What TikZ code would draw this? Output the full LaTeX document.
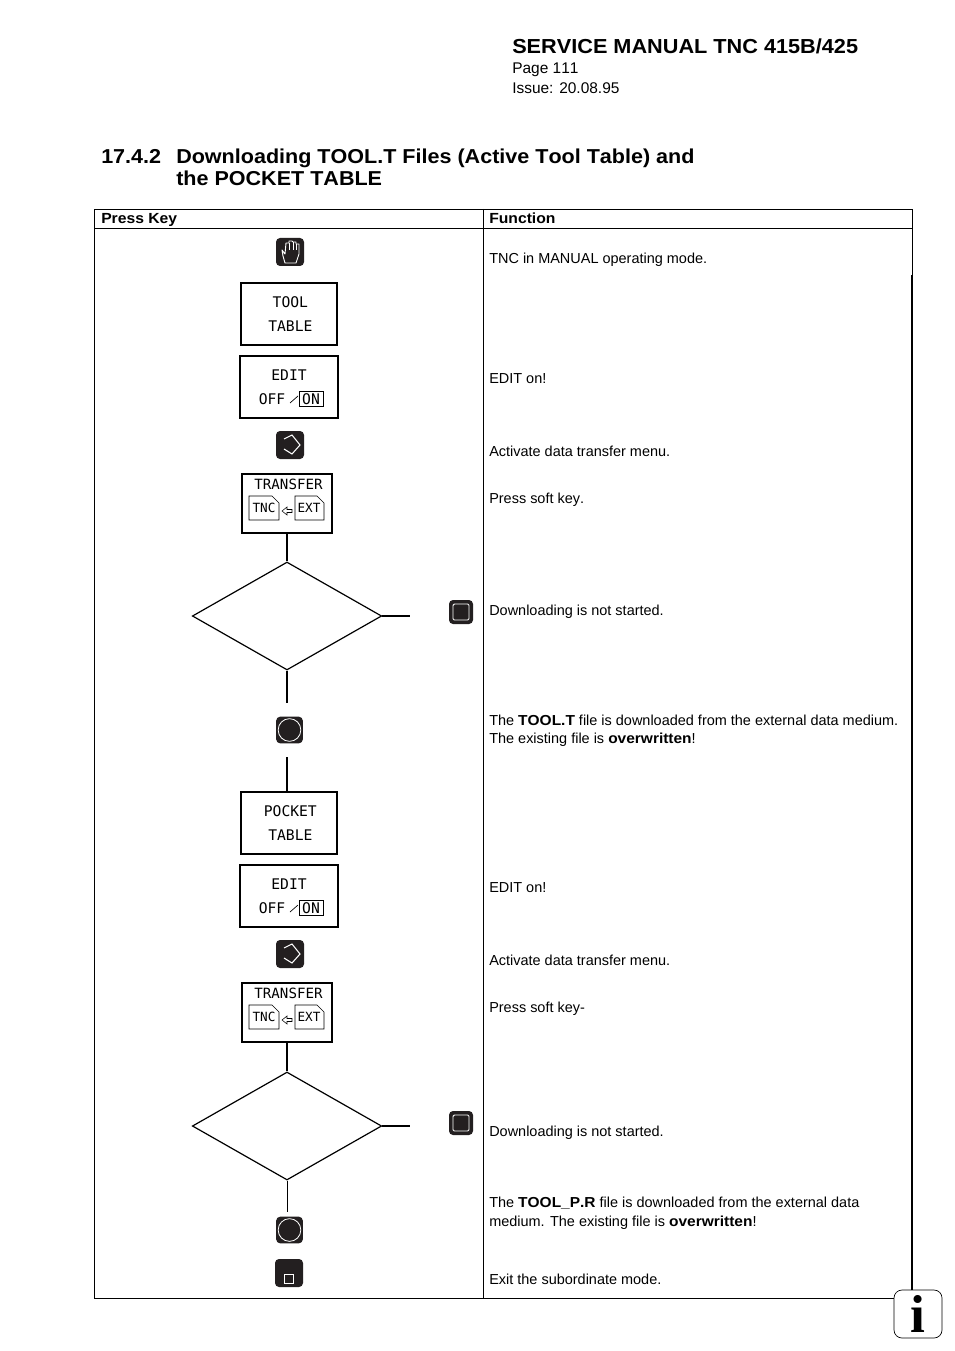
\documentclass[tikz,border=0pt]{standalone}
\usepackage{fontspec}
\setmainfont{Liberation Sans}[Kerning=Off, BoldFeatures={FakeStretch=1.07}]
\newfontfamily\keyfont{DejaVu Sans Mono}
\newfontfamily\infofont{Liberation Serif}
\usetikzlibrary{shapes.geometric}
\definecolor{keyblack}{HTML}{231F20}
\tikzset{
    txt/.style={anchor=base west, inner sep=0pt, font=\fontsize{10.85}{13}\selectfont},
    issuetxt/.style={anchor=base west, inner sep=0pt, font=\fontsize{11.6}{13}\selectfont},
    headtxt/.style={anchor=base west, inner sep=0pt, font=\fontsize{11}{13}\selectfont\bfseries},
    titletxt/.style={anchor=base west, inner sep=0pt, font=\fontsize{15.2}{18}\selectfont\bfseries},
    sectxt/.style={anchor=base west, inner sep=0pt, font=\fontsize{15.1}{18}\selectfont\bfseries},
    softkey/.style={draw, line width=1.5pt, minimum width=72pt, minimum height=46pt, inner sep=0pt, align=center, font=\fontsize{11}{18}\keyfont},
    keylabel/.style={inner sep=0pt, font=\fontsize{11}{12}\keyfont},
    hardkey/.style={fill=keyblack, rounded corners=3pt, minimum width=21pt, minimum height=21pt, inner sep=0pt},
    ask/.style={draw, diamond, line width=.9pt, minimum width=142pt, minimum height=81pt, inner sep=0pt},
    flow/.style={line width=1.5pt},
    tabline/.style={line width=.6pt},
}
\begin{document}
\begin{tikzpicture}[x=.75pt, y=-.75pt]
    \useasboundingbox (0,0) rectangle (954,1351);
    % table frame
    \draw[tabline] (94,209) rectangle (912,228);
    \draw[tabline] (94,228)--(94,1298)--(894,1298);
    \draw[tabline] (483,209)--(483,1298);
    \draw[tabline] (912,228)--(912,275);
    \draw[line width=1.3pt] (912,275)--(912,1291);
    % titles
    \node[titletxt] (title) at (512,54) {SERVICE MANUAL TNC 415B/425};
    \node[issuetxt] (page) at (512,74) {Page 111};
    \node[issuetxt] (issue) at (512,94) {Issue: 20.08.95};
    \node[sectxt] (secno) at (101,164) {17.4.2};
    \node[sectxt] (sec1) at (176,164) {Downloading TOOL.T Files (Active Tool Table) and};
    \node[sectxt] (sec2) at (176,186) {the POCKET TABLE};
    \node[headtxt] (presskey) at (101,224) {Press Key};
    \node[headtxt] (function) at (489,224) {Function};
    % keys only used once
    \node[hardkey] (manual) at (290,252) {};
    \draw[white, line width=.7pt, line join=round] (282,250)--(285,254)--(286,243)--(289,243)--(289,241)--(292,241)--(293,242)--(296,242)--(296,244)--(299,244)--(299,254)--(296,263)--(285,263)--(283,256)--cycle;
    \draw[white, line width=.5pt] (289,243)--(289,250) (293,242)--(293,250) (296,244)--(296,250);
    \node[softkey] (tooltable) at (289,314) {\hspace*{2pt}TOOL\\\hspace*{2pt}TABLE};
    \node[softkey] (pockettable) at (289,823) {\hspace*{2pt}POCKET\\\hspace*{2pt}TABLE};
    % the two runs through the menu
    \foreach \s/\d/\e in {a/0/0, b/509/1}{
        \node[softkey, minimum width=73pt, minimum height=47pt] (edit\s) at (289,387+\d) {};
        \node[keylabel] (editlabel\s) at (289,375+\d) {EDIT};
        \node[keylabel] (off\s) at (272,399+\d) {OFF};
        \draw[line width=.5pt] (290,403+\d)--(298,396+\d);
        \node[draw, line width=.6pt, inner sep=0pt, minimum width=18pt, minimum height=11pt, keylabel] (on\s) at (311,399+\d) {ON};
        \node[hardkey] (pgm\s) at (290,445+\d) {};
        \draw[white, line width=.8pt] (284,439+\d)--(292,435+\d)--(300,445+\d)--(292,454+\d)--(284,449+\d);
        \node[softkey, minimum width=68pt, minimum height=44pt] (transfer\s) at (287,503.5+\d) {};
        \node[keylabel, font=\fontsize{10.6}{12}\keyfont] (transferlabel\s) at (288.5,484+\d) {TRANSFER};
        \node[keylabel, font=\fontsize{9.5}{11}\keyfont] (tnc\s) at (264,508+\d) {TNC};
        \node[keylabel, font=\fontsize{9.5}{11}\keyfont] (ext\s) at (309,508+\d) {EXT};
        \draw[line width=.4pt] (249,496+\d)--(272,496+\d)--(279,503+\d)--(279,520+\d)--(249,520+\d)--cycle;
        \draw[line width=.4pt] (295,496+\d)--(317,496+\d)--(324,503+\d)--(324,520+\d)--(295,520+\d)--cycle;
        \draw[line width=.4pt] (282,511+\d)--(287,507+\d)--(287,509.5+\d)--(292,509.5+\d)--(292,512.5+\d)--(287,512.5+\d)--(287,515+\d)--cycle;
        \node[ask] (ask\s) at (287,616+\d+\e) {};
        \draw[flow] (transfer\s) -- (ask\s);
        \coordinate (askright\s) at ([xshift=21pt]ask\s.east);
        \draw[flow] (ask\s.east) -- (askright\s);
        \node[hardkey, minimum width=18pt, minimum height=18pt] (stop\s) at (461,612+\d+2*\e) {};
        \draw[white, line width=.7pt, rounded corners=1pt] (453,604+\d+2*\e) rectangle (469,620+\d+2*\e);
    }
    % start keys and connectors below the diamonds
    \node[hardkey, minimum width=20pt, minimum height=20pt] (starta) at (289.5,730) {};
    \draw[white, line width=.6pt] (starta) circle (8.5pt);
    \node[hardkey, minimum width=20pt, minimum height=20pt] (startb) at (289.5,1230) {};
    \draw[white, line width=.6pt] (startb) circle (8.5pt);
    \coordinate (gapa) at (aska.south |- 0,703);
    \coordinate (gapb) at (aska.south |- 0,757);
    \coordinate (gapc) at (askb.south |- 0,1212);
    \draw[flow] (aska.south) -- (gapa);
    \draw[flow] (gapb) -- (gapb |- pockettable.north);
    \draw[line width=.7pt] (askb.south) -- (gapc);
    \node[hardkey] (endkey) at (289,1273) {};
    \draw[white, line width=.6pt] (284,1274) rectangle (293,1283);
    % info mark
    \node[draw, fill=white, line width=.5pt, rounded corners=6pt, minimum width=36pt, minimum height=36pt, inner sep=0pt, font=\fontsize{40}{40}\infofont\bfseries] (info) at (918,1314) {i};
    % function texts
    \node[txt] (f1) at (489,264) {TNC in MANUAL operating mode.};
    \node[txt] (f2) at (489,383) {EDIT on!};
    \node[txt] (f3) at (489,456) {Activate data transfer menu.};
    \node[txt] (f4) at (489,503) {Press soft key.};
    \node[txt] (f5) at (489,615) {Downloading is not started.};
    \node[txt] (f6) at (489,725) {The \textbf{TOOL.T} file is downloaded from the external data medium.};
    \node[txt] (f7) at (489,743) {The existing file is \textbf{overwritten}!};
    \node[txt] (f8) at (489,892) {EDIT on!};
    \node[txt] (f9) at (489,965) {Activate data transfer menu.};
    \node[txt] (f10) at (489,1012) {Press soft key-};
    \node[txt] (f11) at (489,1136) {Downloading is not started.};
    \node[txt] (f12) at (489,1207) {The \textbf{TOOL\_P.R} file is downloaded from the external data};
    \node[txt] (f13) at (489,1226) {medium. The existing file is \textbf{overwritten}!};
    \node[txt] (f14) at (489,1284) {Exit the subordinate mode.};
\end{tikzpicture}
\end{document}
